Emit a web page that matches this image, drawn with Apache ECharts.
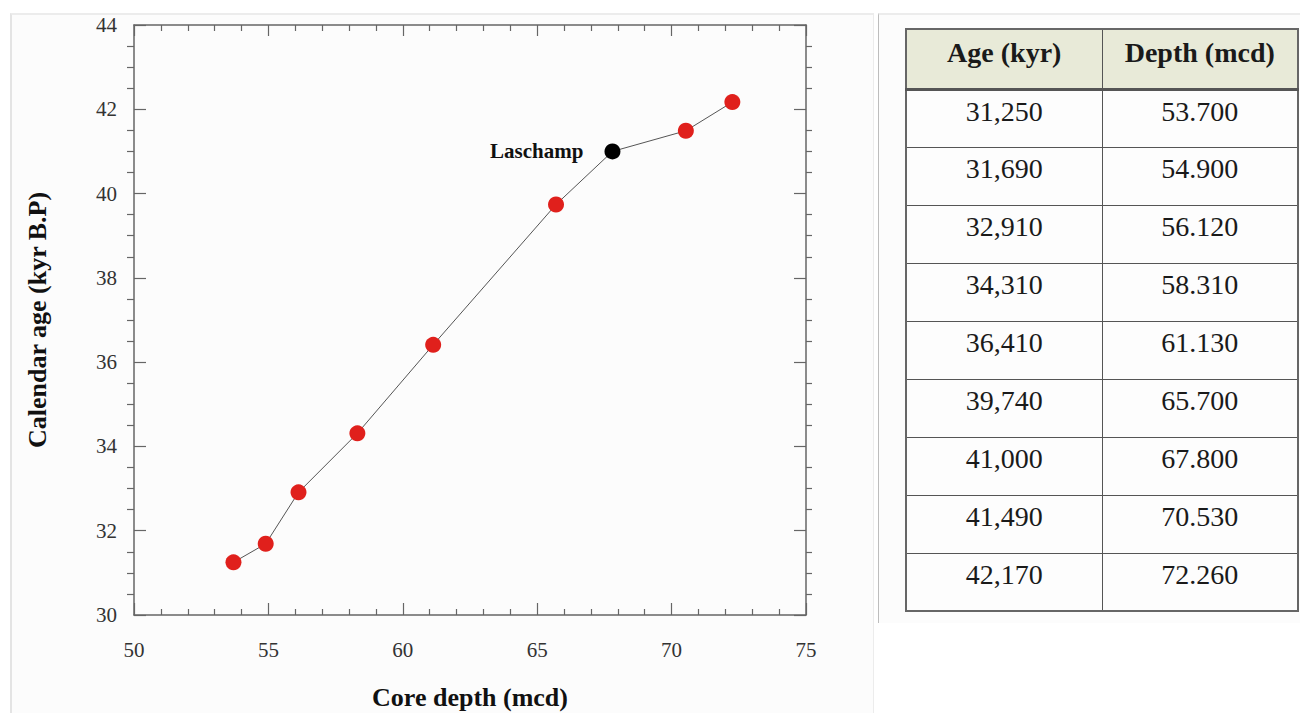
<!DOCTYPE html>
<html>
<head>
<meta charset="utf-8">
<title>Age–depth model</title>
<script src="https://cdn.jsdelivr.net/npm/echarts@6/dist/echarts.min.js"></script>
<style>
  html, body { margin: 0; padding: 0; background: #ffffff; width: 1300px; height: 713px; overflow: hidden; }
  #plotPanel {
    position: absolute; left: 10px; top: 13px; width: 864px; height: 710px;
    border-left: 2px solid #e4e4e4; border-top: 2px solid #ececec; border-right: 1px solid #ececec;
    background: #fcfcfc; box-sizing: border-box;
  }
  #chart { position: absolute; left: 0; top: 0; width: 878px; height: 713px; }
  #tablePanel {
    position: absolute; left: 878px; top: 13px; width: 422px; height: 610px;
    border-left: 1px solid #bdbdbd; border-top: 2px solid #ececec; background: #fcfcfc; box-sizing: border-box;
  }
  #ageTable {
    position: absolute; left: 905px; top: 28px; width: 394px;
    border-collapse: collapse; font-family: "Liberation Serif", "DejaVu Serif", serif;
    color: #1a1a1a; background: #fdfdfd;
  }
  #ageTable th, #ageTable td {
    border: 1.5px solid #555; text-align: center; vertical-align: top;
    box-sizing: border-box; padding: 0;
  }
  #ageTable th {
    height: 60px; font-size: 28px; font-weight: bold; line-height: 30px; padding-top: 8px;
    background: #e8ead8; border-bottom: 3px solid #555;
  }
  #ageTable td { height: 58px; font-size: 28px; line-height: 30px; padding-top: 6px; }
  #ageTable { border: 2px solid #666; }
</style>
</head>
<body>
<div id="plotPanel"></div>
<div id="tablePanel"></div>
<div id="chart"></div>
<table id="ageTable"></table>
<script>
// Calendar age (kyr) and core depth (mcd) of the tie points
const ageKyr = [31.25, 31.69, 32.91, 34.31, 36.41, 39.74, 41.00, 41.49, 42.17];
const depthMcd = [53.70, 54.90, 56.12, 58.31, 61.13, 65.70, 67.80, 70.53, 72.26];
// Index of the Laschamp excursion tie point
const laschampIndex = 6;
const laschampLabel = 'Laschamp';
// Table headings
const tableHeaders = ['Age (kyr)', 'Depth (mcd)'];

const serif = '"Liberation Serif", "DejaVu Serif", serif';
const axisColor = '#666';
const xRange = { min: 50, max: 75, interval: 5 };
const yRange = { min: 30, max: 44, interval: 2 };

const points = depthMcd.map((d, i) => {
  const item = { value: [d, ageKyr[i]] };
  if (i === laschampIndex) {
    item.itemStyle = { color: '#000000' };
    item.label = {
      show: true, position: 'left', distance: 21, formatter: laschampLabel,
      fontFamily: serif, fontWeight: 'bold', fontSize: 21, color: '#111'
    };
  }
  return item;
});

const chart = echarts.init(document.getElementById('chart'), null, { renderer: 'svg' });

const labelStyle = { fontFamily: serif, fontSize: 21, color: '#333' };
const nameStyle = { fontFamily: serif, fontSize: 26, fontWeight: 'bold', color: '#111' };
const lineStyle = { color: axisColor, width: 1.5 };

chart.setOption({
  animation: false,
  backgroundColor: 'transparent',
  grid: { left: 134, top: 25, width: 672, height: 590, containLabel: false, outerBoundsMode: 'none' },
  xAxis: [
    {
      type: 'value', position: 'bottom', ...xRange,
      axisLine: { show: true, lineStyle },
      axisTick: { show: true, inside: true, length: 12, lineStyle: { color: axisColor, width: 1.2 } },
      minorTick: { show: true, splitNumber: 5, length: 6, lineStyle: { color: axisColor, width: 1.2 } },
      axisLabel: { ...labelStyle, margin: 24 },
      splitLine: { show: false },
      name: 'Core depth (mcd)', nameLocation: 'middle', nameGap: 69, nameTextStyle: nameStyle
    },
    {
      type: 'value', position: 'top', ...xRange,
      axisLine: { show: true, lineStyle },
      axisTick: { show: true, inside: true, length: 11, lineStyle: { color: axisColor, width: 1.2 } },
      minorTick: { show: true, splitNumber: 5, length: 6, lineStyle: { color: axisColor, width: 1.2 } },
      axisLabel: { show: false },
      splitLine: { show: false }
    }
  ],
  yAxis: [
    {
      type: 'value', position: 'left', ...yRange,
      axisLine: { show: true, lineStyle },
      axisTick: { show: true, inside: true, length: 12, lineStyle: { color: axisColor, width: 1.2 } },
      minorTick: { show: false },
      axisLabel: { ...labelStyle, margin: 17 },
      splitLine: { show: false },
      name: 'Calendar age (kyr B.P)', nameLocation: 'middle', nameGap: 84, nameTextStyle: nameStyle
    },
    {
      type: 'value', position: 'left', ...yRange,
      axisLine: { show: false },
      axisTick: { show: false, inside: false },
      minorTick: { show: true, splitNumber: 4, length: 7, lineStyle: { color: axisColor, width: 1.2 } },
      axisLabel: { show: false },
      splitLine: { show: false }
    },
    {
      type: 'value', position: 'right', ...yRange,
      axisLine: { show: true, lineStyle },
      axisTick: { show: true, inside: true, length: 12, lineStyle: { color: axisColor, width: 1.2 } },
      minorTick: { show: false },
      axisLabel: { show: false },
      splitLine: { show: false }
    },
    {
      type: 'value', position: 'right', ...yRange,
      axisLine: { show: false },
      axisTick: { show: false, inside: false },
      minorTick: { show: true, splitNumber: 4, length: 6, lineStyle: { color: axisColor, width: 1.2 } },
      axisLabel: { show: false },
      splitLine: { show: false }
    }
  ],
  series: [
    {
      type: 'line', xAxisIndex: 0, yAxisIndex: 0,
      data: points,
      symbol: 'circle', symbolSize: 16, showAllSymbol: true,
      lineStyle: { color: '#555', width: 1 },
      itemStyle: { color: '#e0201c' },
      emphasis: { disabled: true }
    }
  ]
});

// Tie-point table: age in years with thousands separator, depth to three decimals
const table = document.getElementById('ageTable');
const headRow = document.createElement('tr');
tableHeaders.forEach(h => {
  const th = document.createElement('th');
  th.textContent = h;
  th.style.width = '50%';
  headRow.appendChild(th);
});
table.appendChild(headRow);
ageKyr.forEach((a, i) => {
  const tr = document.createElement('tr');
  const years = Math.round(a * 1000).toLocaleString('en-US');
  [years, depthMcd[i].toFixed(3)].forEach(v => {
    const td = document.createElement('td');
    td.textContent = v;
    tr.appendChild(td);
  });
  table.appendChild(tr);
});
</script>
</body>
</html>
